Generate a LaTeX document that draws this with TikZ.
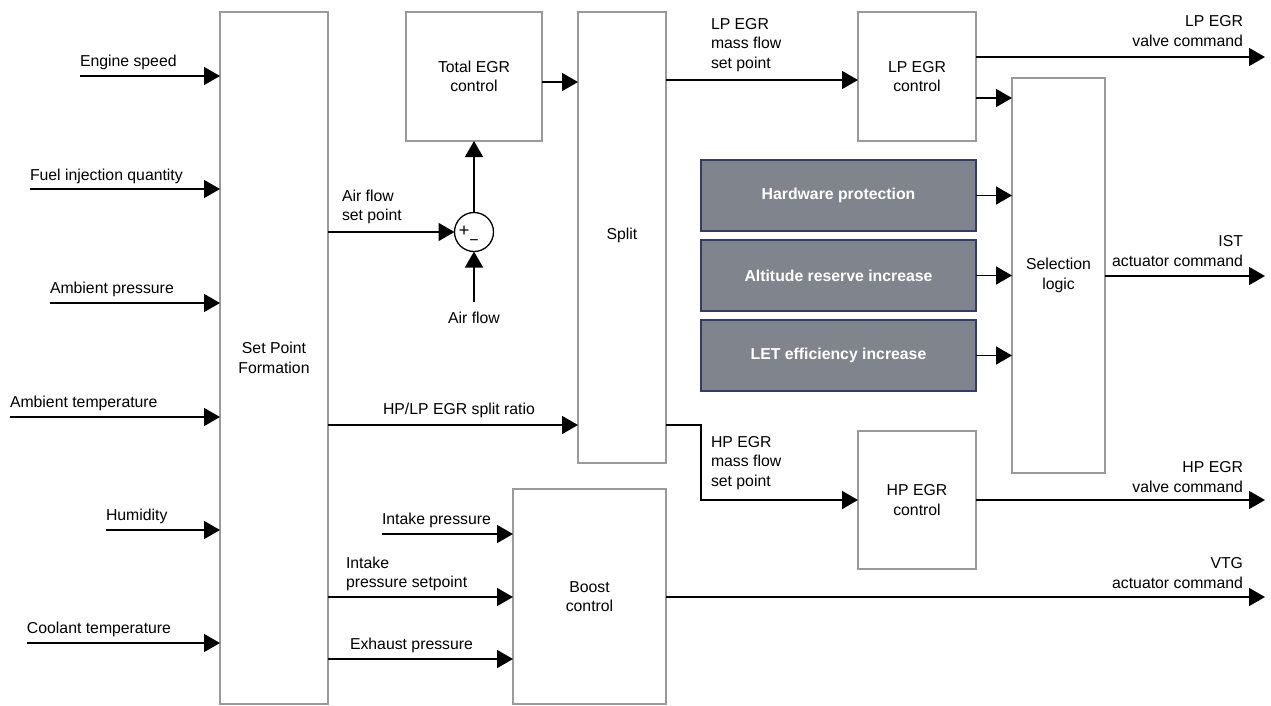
\documentclass[tikz,border=0pt]{standalone}
\usepackage{fontspec}
\setmainfont{Liberation Sans}
\usetikzlibrary{arrows.meta}
\definecolor{boxgray}{HTML}{9A9A9A}
\definecolor{fillgray}{HTML}{80848C}
\definecolor{navyedge}{HTML}{343C66}
\begin{document}
\begin{tikzpicture}[x=1pt,y=-1pt,
  every node/.style={inner sep=0pt, outer sep=0pt, font=\fontsize{15.8}{19.5}\selectfont},
  blk/.style={draw=boxgray, line width=1.3pt, fill=white, align=center, anchor=north west},
  grayblk/.style={draw=navyedge, line width=1.3pt, fill=fillgray, text=white, font=\fontsize{15.8}{19.5}\selectfont\bfseries, anchor=north west},
  arr/.style={line width=1.6pt, -{Triangle[length=16pt,width=18pt]}},
  lbl/.style={anchor=west, align=left},
  rlbl/.style={anchor=east, align=right}]
\fill[white] (0,0) rectangle (1271,705);
\useasboundingbox (0,0) rectangle (1271,705);

% blocks
\node[blk, minimum width=108pt, minimum height=692pt] (spf) at (220,12) {Set Point\\Formation};
\node[blk, minimum width=136pt, minimum height=129pt] (tot) at (406,12) {Total EGR\\control};
\node[blk, minimum width=88pt, minimum height=451pt] (split) at (578,12) {\raisebox{7pt}{Split}};
\node[blk, minimum width=118pt, minimum height=129pt] (lp) at (858,12) {LP EGR\\control};
\node[blk, minimum width=93pt, minimum height=395pt] (sel) at (1012,78) {Selection\\logic};
\node[blk, minimum width=118pt, minimum height=138pt] (hp) at (858,431) {HP EGR\\control};
\node[blk, minimum width=153pt, minimum height=215pt] (boost) at (513,489) {Boost\\control};
\node[grayblk, minimum width=275pt, minimum height=71pt] (hw) at (701,160) {Hardware protection};
\node[grayblk, minimum width=275pt, minimum height=71pt] (alt) at (701,240) {Altitude reserve increase};
\node[grayblk, minimum width=275pt, minimum height=71pt] (let) at (701,320) {LET efficiency increase};

% summing junction
\node[circle, draw=black, line width=1.3pt, minimum size=39pt] (sum) at (474,232) {};
\node[font=\fontsize{18}{18}\selectfont] (plus) at (464,231) {+};
\node[font=\fontsize{16}{16}\selectfont] (minus) at (474,243) {−};

% inputs to set point formation
\coordinate (i1) at (80,76);
\coordinate (i2) at (30,189);
\coordinate (i3) at (50,303);
\coordinate (i4) at (10,417);
\coordinate (i5) at (106,530);
\coordinate (i6) at (27,643);
\foreach \c in {i1,i2,i3,i4,i5,i6} \draw[arr] (\c) -- (\c -| spf.west);
\node[lbl] (l1) at (80,62) {Engine speed};
\node[lbl] (l2) at (30,176) {Fuel injection quantity};
\node[lbl] (l3) at (50,289) {Ambient pressure};
\node[lbl] (l4) at (10,403) {Ambient temperature};
\node[lbl] (l5) at (106,516) {Humidity};
\node[lbl] (l6) at (27,629) {Coolant temperature};

% air flow
\draw[arr] (spf.east |- sum.west) -- (sum.west);
\node[lbl] (afsp) at (342,207) {Air flow\\set point};
\draw[arr] (sum.north) -- (tot.south);
\coordinate (afin) at (474,302);
\draw[arr] (afin) -- (sum.south);
\node (afl) at (474,318) {Air flow};

% total -> split
\draw[arr] (tot.east |- 0,82) -- (split.west |- 0,82);

% split ratio
\draw[arr] (spf.east |- 0,425) -- (split.west |- 0,425);
\node[lbl] (srl) at (383,410) {HP/LP EGR split ratio};

% split -> LP EGR
\draw[arr] (split.east |- 0,80) -- (lp.west |- 0,80);
\node[lbl] (lpm) at (711,45) {LP EGR\\mass flow\\set point};

% split -> HP EGR
\coordinate (hpturn) at (701,425);
\draw[arr] (split.east |- hpturn) -- (hpturn) |- (hp.west);
\node[lbl] (hpm) at (711,463) {HP EGR\\mass flow\\set point};

% LP outputs
\coordinate (o1) at (1265,57);
\draw[arr] (lp.east |- o1) -- (o1);
\node[rlbl] (o1l) at (1243,31) {LP EGR\\valve command};
\draw[arr] (lp.east |- 0,98) -- (sel.west |- 0,98);

% gray -> selection
\draw[arr] (hw.east) -- (sel.west |- hw.east);
\draw[arr] (alt.east) -- (sel.west |- alt.east);
\draw[arr] (let.east) -- (sel.west |- let.east);

% IST
\coordinate (o2) at (1265,276);
\draw[arr] (sel.east |- o2) -- (o2);
\node[rlbl] (o2l) at (1243,251) {IST\\actuator command};

% HP output
\coordinate (o3) at (1265,500);
\draw[arr] (hp.east) -- (o3);
\node[rlbl] (o3l) at (1243,477) {HP EGR\\valve command};

% boost inputs
\coordinate (ip) at (382,534);
\draw[arr] (ip) -- (boost.west |- ip);
\node[lbl] (ipl) at (382,520) {Intake pressure};
\draw[arr] (spf.east |- 0,597) -- (boost.west |- 0,597);
\node[lbl] (ipsl) at (346,574) {Intake\\pressure setpoint};
\draw[arr] (spf.east |- 0,659) -- (boost.west |- 0,659);
\node[lbl] (epl) at (350,645) {Exhaust pressure};

% VTG
\coordinate (o4) at (1265,597);
\draw[arr] (boost.east |- o4) -- (o4);
\node[rlbl] (o4l) at (1243,573) {VTG\\actuator command};
\end{tikzpicture}
\end{document}
